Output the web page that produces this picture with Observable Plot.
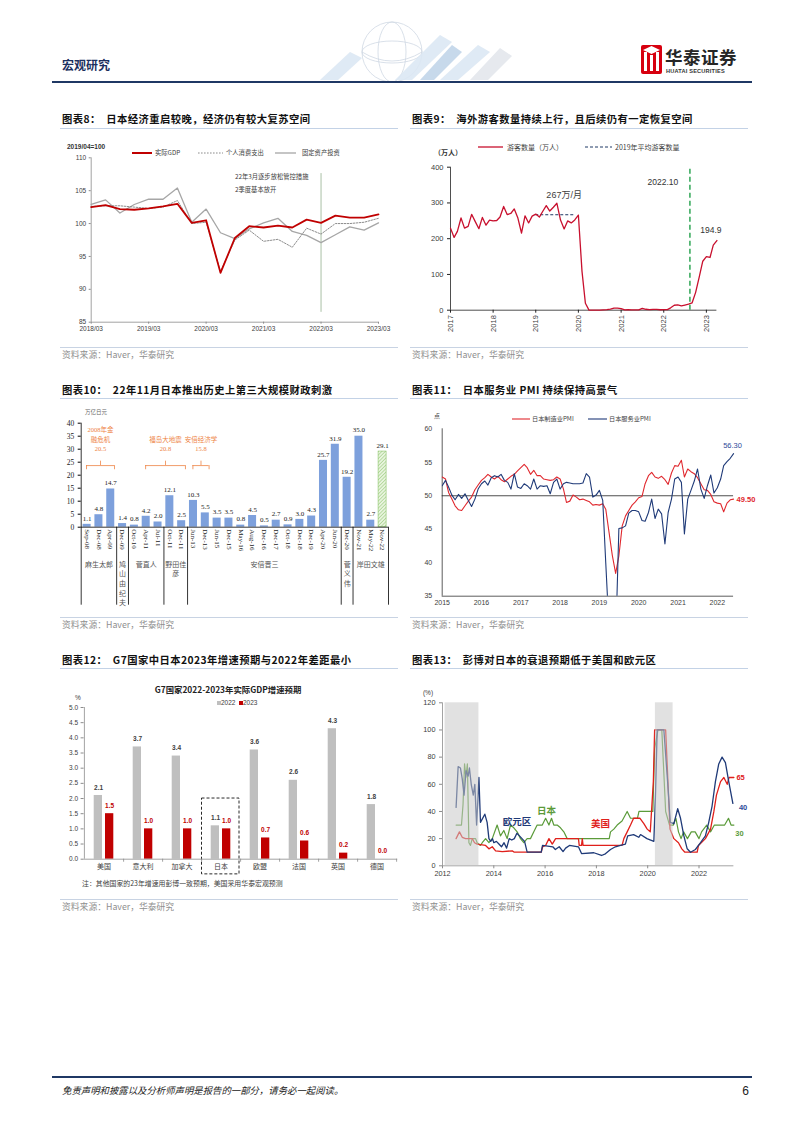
<!DOCTYPE html>
<html><head><meta charset="utf-8">
<script src="https://cdn.jsdelivr.net/npm/d3@7"></script>
<script src="https://cdn.jsdelivr.net/npm/@observablehq/plot@0.6"></script>
<style>
html,body{margin:0;padding:0;background:#fff;}
#page{position:relative;width:802px;height:1133px;overflow:hidden;background:#fff;}
#page svg{position:absolute;}
</style></head>
<body><div id="page"></div>
<script>
const CJK = '"Noto Sans CJK SC", "Liberation Sans", sans-serif';
const SANS = '"Liberation Sans", "Noto Sans CJK SC", sans-serif';
const SERIF = '"Liberation Serif", "Noto Sans CJK SC", serif';

// ================= DATA =================
// Chart 8 (quarterly, 2018Q1..2023Q1, 2019/04=100)
const c8Ticks = ["2018/03","2019/03","2020/03","2021/03","2022/03","2023/03"];
const c8YTicks = [85,90,95,100,105,110];
const c8Gdp  = [102.5,102.8,102.2,102.1,102.3,102.6,103.0,100.1,100.5,92.5,97.8,99.6,99.4,99.7,99.4,100.6,100.1,101.2,100.9,100.9,101.4];
const c8Cons = [102.6,102.7,102.7,102.5,102.3,102.5,103.5,100.0,100.2,92.7,97.5,99.0,97.3,97.6,96.4,99.3,98.4,100.0,100.0,100.2,100.8];
const c8Inv  = [102.9,103.6,101.6,102.9,103.7,103.7,105.4,100.2,102.2,98.6,97.7,99.2,100.1,100.8,98.8,98.2,97.1,98.3,99.5,99.0,100.1];
const c8Legend = ["实际GDP","个人消费支出","固定资产投资"];
const c8MarkQ = 16;            // 2022/03
const c8MarkSpan = [86.5,107.6];
const c8Note = ["22年3月逐步放松管控措施","2季度基本放开"];

// Chart 9 (monthly, 2017-01..2023-04, 万人)
const c9Visitors = [
  229.6,203.6,220.6,257.9,229.5,234.6,268.2,247.8,228.0,259.5,237.8,252.1,
  250.1,250.9,260.8,290.1,267.5,270.5,283.2,257.8,215.9,264.1,244.1,263.2,
  268.9,260.4,276.1,292.7,277.3,288.0,299.1,252.0,227.3,249.7,244.1,252.6,
  266.1,108.5,19.4,0.3,0.2,0.3,0.4,0.9,1.4,2.8,5.7,5.9,
  4.6,0.7,1.2,1.1,1.0,0.9,5.1,2.6,1.8,2.2,2.1,1.2,
  1.8,1.7,6.6,13.9,14.7,12.0,14.5,16.9,20.7,49.9,93.5,137.0,
  149.7,147.5,181.8,194.9];
const c9Years = [2017,2018,2019,2020,2021,2022,2023];
const c9Avg2019 = 267;
const c9Mark = "2022.10";
const c9Legend = ["游客数量（万人）","2019年平均游客数量"];

// Chart 10 (万亿日元)
const c10Dates = ["Sep-08","Dec-08","Apr-09","Dec-09","Oct-10","Apr-11","Jul-11","Oct-11","Dec-11","Jun-13","Dec-13","Jun-15","Dec-15","May-16","Aug-16","Dec-16","Dec-17","Oct-18","Dec-18","Dec-19","Apr-20","Jun-20","Dec-20","Nov-21","May-22","Nov-22"];
const c10Vals  = [1.1,4.8,14.7,1.4,0.8,4.2,2.0,12.1,2.5,10.3,5.5,3.5,3.5,0.8,4.5,0.5,2.7,0.9,3.0,4.3,25.7,31.9,19.2,35.0,2.7,29.1];
const c10Latest = "Nov-22";
const c10PMs = ["麻生太郎","鸠\n山\n由\n纪\n夫","菅直人","野田佳\n彦","安倍晋三","菅\n义\n伟","岸田文雄"];
const c10PMSizes = [3,1,3,2,13,1,3];
const c10Events = ["2008年金\n融危机\n20.5","福岛大地震\n20.8","安倍经济学\n15.8"];
const c10EventFrom = ["Sep-08","Apr-11","Jun-13"];
const c10EventTo = ["Apr-09","Dec-11","Dec-13"];

// Chart 11 (monthly PMI)
const c11Mfg = [
  52.8,52.5,50.5,49.5,48.5,47.9,47.8,48.5,49.2,49.8,50.9,51.6,
  52.3,52.7,53.2,52.8,52.5,52.9,52.4,52.1,52.5,52.9,53.2,53.7,
  54.2,54.7,54.2,53.2,53.8,53.0,53.0,52.5,52.4,52.3,52.4,52.8,
  52.5,51.0,49.0,49.2,50.1,49.8,49.4,49.5,49.3,49.1,48.6,48.7,
  48.6,48.8,48.0,44.5,41.1,38.4,41.0,45.5,47.0,47.8,48.6,49.1,
  49.7,49.9,51.8,53.0,53.5,52.8,52.6,52.9,52.4,51.7,53.4,54.5,
  54.4,55.3,52.8,54.0,53.6,53.3,52.7,51.8,50.9,50.8,50.2,49.1,
  48.9,48.8,47.6,48.9,49.4,49.5];
const c11Svc = [
  51.5,52.3,51.3,50.1,49.4,50.2,49.6,50.3,49.3,48.4,49.5,51.0,
  51.8,52.2,51.6,52.7,53.0,52.8,53.2,52.3,52.0,51.0,53.3,51.3,
  51.1,51.8,51.5,51.0,52.5,51.0,51.5,51.4,51.5,50.3,52.0,52.5,
  51.0,51.8,52.0,51.9,51.8,51.8,51.8,51.9,53.3,52.8,49.8,50.1,
  50.8,49.3,40.0,30.0,25.0,28.0,45.1,45.2,45.5,47.4,47.8,47.8,
  47.6,46.3,46.2,47.5,49.5,46.6,48.0,47.3,42.8,47.5,49.5,52.5,
  52.8,52.0,44.3,49.5,50.8,52.2,54.0,51.0,49.6,51.5,53.1,50.4,
  51.2,52.5,54.5,55.1,55.6,56.3];
const c11Years = [2015,2016,2017,2018,2019,2020,2021,2022];
const c11Legend = ["日本制造业PMI","日本服务业PMI"];

// Chart 12 (G7 GDP growth, %)
const c12Countries = ["美国","意大利","加拿大","日本","欧盟","法国","英国","德国"];
const c12G2022 = [2.1,3.7,3.4,1.1,3.6,2.6,4.3,1.8];
const c12G2023 = [1.5,1.0,1.0,1.0,0.7,0.6,0.2,0.0];
const c12Highlight = "日本";

// Chart 13 (recession probability, %)
const c13US = [[2012.53,20],[2012.66,25],[2012.77,21],[2012.90,20],[2013.16,20],[2013.25,17],[2013.35,16],[2013.68,15],[2013.81,12.5],[2013.94,14],[2014.07,11],[2014.33,10.5],[2014.72,11],[2014.80,10],[2015.85,10],[2015.90,14],[2016.02,15],[2016.15,20],[2016.28,16],[2016.41,20],[2017.30,20],[2017.33,15],[2017.42,15],[2017.45,20],[2017.48,15],[2019.00,15],[2019.07,20],[2019.20,25],[2019.33,30],[2019.45,35],[2019.70,35],[2019.85,31],[2019.98,27],[2020.10,25],[2020.22,62],[2020.27,100],[2020.70,100],[2020.87,27],[2021.02,20],[2021.20,17],[2021.33,12.5],[2021.45,10],[2021.93,10],[2021.98,15],[2022.25,20],[2022.45,27],[2022.58,40],[2022.68,52],[2022.84,62],[2022.97,65],[2023.10,60],[2023.17,65],[2023.36,65]];
const c13Japan = [[2012.53,30],[2012.74,30],[2012.80,45],[2012.86,75],[2012.91,65],[2012.97,75],[2013.03,17],[2013.09,15],[2013.16,20],[2013.29,20],[2013.35,17],[2013.48,15],[2013.55,17],[2013.68,20],[2013.81,17],[2013.94,20],[2014.13,30],[2014.26,22],[2014.39,26],[2014.52,20],[2014.65,30],[2014.78,28],[2014.91,25],[2015.04,20],[2015.17,17],[2015.30,20],[2015.43,20],[2015.56,25],[2015.69,30],[2015.89,30],[2016.02,35],[2016.15,30],[2016.25,35],[2016.34,30],[2016.47,30],[2016.60,28],[2016.73,25],[2016.86,20],[2018.50,20],[2018.55,25],[2018.68,27],[2018.81,30],[2019.00,33],[2019.20,40],[2019.33,35],[2019.60,35],[2019.66,40],[2020.20,40],[2020.27,86],[2020.40,100],[2020.55,100],[2020.70,40],[2020.85,30],[2021.00,30],[2021.10,35],[2021.20,25],[2021.30,20],[2021.40,25],[2021.55,20],[2021.70,25],[2021.85,25],[2022.00,20],[2022.10,25],[2022.30,30],[2022.45,25],[2022.60,30],[2023.00,30],[2023.15,35],[2023.25,30],[2023.36,30]];
const c13Euro = [[2012.53,43],[2012.61,73],[2012.70,72],[2012.77,64],[2012.84,52],[2012.92,70],[2013.00,66],[2013.05,72],[2013.12,60],[2013.20,52],[2013.26,60],[2013.33,30],[2013.42,65],[2013.48,32],[2013.65,38],[2013.74,32],[2013.81,20],[2013.88,18],[2013.95,20],[2014.00,17],[2014.10,18],[2014.20,16],[2014.30,14],[2014.40,17],[2014.50,13],[2014.60,20],[2014.70,19],[2014.80,20],[2014.90,24],[2015.00,22],[2015.10,20],[2015.20,18],[2015.30,10],[2015.85,10],[2015.90,15],[2016.30,14],[2016.40,12],[2016.55,14],[2016.70,10.5],[2016.80,13],[2016.95,15],[2017.30,14],[2017.42,9],[2017.90,9.6],[2018.20,7.6],[2018.35,8.8],[2018.55,12],[2018.74,14],[2018.94,15],[2019.13,16],[2019.22,22],[2019.45,23],[2019.65,21],[2019.72,23],[2019.97,20],[2020.24,18],[2020.30,50],[2020.37,100],[2020.63,100],[2020.78,61],[2020.88,32],[2021.02,31],[2021.17,42],[2021.28,35],[2021.41,22],[2021.54,12.5],[2021.67,10],[2021.86,12],[2022.06,17],[2022.25,22],[2022.38,32],[2022.51,44],[2022.64,62],[2022.77,75],[2022.90,80],[2023.03,76],[2023.16,62],[2023.32,46]];
const c13Recessions = [[2012.1,2013.42],[2020.3,2020.99]];
const c13Names = ["美国","日本","欧元区"];
const c13EndLabels = ["65","30","40"];

// ================= HELPERS =================
const page = document.getElementById("page");
function put(el, left, top){ el.style.left = left+"px"; el.style.top = top+"px"; page.appendChild(el); return el; }
function txt(s, x, y, style = {}, anchor = "start"){
  const d = document.createElement("div");
  d.textContent = s;
  Object.assign(d.style, {position:"absolute", whiteSpace:"nowrap", lineHeight:"1", left:x+"px", top:y+"px", fontFamily:CJK}, style);
  const tx = anchor === "middle" ? "-50%" : anchor === "end" ? "-100%" : "0";
  d.style.transform = `translate(${tx},-50%)`;
  page.appendChild(d); return d;
}
function box(x, y, w, h, bg){
  const d = document.createElement("div");
  Object.assign(d.style, {position:"absolute", left:x+"px", top:y+"px", width:w+"px", height:h+"px", background:bg});
  page.appendChild(d); return d;
}
function swatch(x1, x2, y, color, width, dash){
  const ns = "http://www.w3.org/2000/svg";
  const s = document.createElementNS(ns, "svg");
  s.setAttribute("width", x2-x1); s.setAttribute("height", 6);
  s.style.position = "absolute"; s.style.left = x1+"px"; s.style.top = (y-3)+"px";
  const l = document.createElementNS(ns, "line");
  l.setAttribute("x1",0); l.setAttribute("x2",x2-x1); l.setAttribute("y1",3); l.setAttribute("y2",3);
  l.setAttribute("stroke", color); l.setAttribute("stroke-width", width);
  if (dash) l.setAttribute("stroke-dasharray", dash);
  s.appendChild(l); page.appendChild(s); return s;
}
const baseStyle = (size) => ({background:"transparent", fontFamily:SANS, fontSize:size, color:"#404040"});

// ================= PAGE CHROME =================
(function(){
  const ns = "http://www.w3.org/2000/svg";
  const s = document.createElementNS(ns, "svg");
  s.setAttribute("width", 802); s.setAttribute("height", 90);
  s.style.position = "absolute"; s.style.left = "0px"; s.style.top = "0px";
  s.innerHTML = `
   <g fill="none" stroke="#cfd8e3" stroke-width="0.8">
     <circle cx="392" cy="52" r="30"/>
     <ellipse cx="392" cy="52" rx="14" ry="30"/>
     <ellipse cx="392" cy="52" rx="30" ry="11"/>
     <path d="M362 52 Q392 70 422 52"/>
   </g>
   <g fill="#dce8f4" opacity="0.9">
     <polygon points="320,80 350,52 362,58 338,80"/>
     <polygon points="395,80 440,35 452,42 412,80"/>
     <polygon points="440,80 478,45 490,52 458,80"/>
   </g>
   <g fill="#b9cfe6" opacity="0.8">
     <polygon points="420,80 452,45 462,52 434,80"/>
   </g>
   <g fill="#e6e9ee">
     <polygon points="470,80 500,48 512,56 488,80"/>
   </g>
   <rect x="641" y="45" width="21" height="29" rx="2" fill="#d7000f"/>
   <g fill="#fff">
     <rect x="644" y="52" width="3" height="19"/>
     <rect x="650" y="55" width="3" height="16"/>
     <rect x="656" y="52" width="3" height="19"/>
     <polygon points="643,50 651.5,46 660,50 651.5,54"/>
   </g>`;
  page.appendChild(s);
})();
txt("宏观研究", 62, 65, {fontSize:"12px", fontWeight:"700", color:"#1c2f5e"});
txt("华泰证券", 665, 57, {fontSize:"17.5px", fontWeight:"700", color:"#262626", letterSpacing:"0.5px"});
txt("HUATAI SECURITIES", 666, 71.5, {fontSize:"5.6px", fontWeight:"700", color:"#333", fontFamily:SANS, letterSpacing:"0.2px"});
box(52, 81, 700, 1.6, "#1f3864");

box(52, 1076, 700, 1.6, "#1f3864");
txt("免责声明和披露以及分析师声明是报告的一部分，请务必一起阅读。", 62, 1091, {fontSize:"9.4px", fontStyle:"italic", color:"#222"});
txt("6", 749, 1091, {fontSize:"12px", color:"#222", fontFamily:SANS}, "end");

const titles = [
  ["图表8：  日本经济重启较晚，经济仍有较大复苏空间", 62, 119],
  ["图表9：  海外游客数量持续上行，且后续仍有一定恢复空间", 412, 119],
  ["图表10：  22年11月日本推出历史上第三大规模财政刺激", 62, 390],
  ["图表11：  日本服务业 PMI 持续保持高景气", 412, 390],
  ["图表12：  G7国家中日本2023年增速预期与2022年差距最小", 62, 660],
  ["图表13：  彭博对日本的衰退预期低于美国和欧元区", 412, 660]];
titles.forEach(([t,x,y]) => { const d = txt(t, x, y, {fontSize:"10.3px", fontWeight:"700", color:"#111", letterSpacing:"0.45px"}); d.style.whiteSpace = "pre"; });
[[60,128],[410,128],[60,398],[410,398],[60,668],[410,668]].forEach(([x,y]) => box(x, y, 338, 1, "#c3d2e6"));
[[60,347,355],[410,347,355],[60,617,625],[410,617,625],[60,899,906.5],[410,899,906.5]].forEach(([x,ly,ty]) => {
  box(x, ly, 338, 1, "#c8d3e3");
  txt("资料来源：Haver，华泰研究", x+2, ty, {fontSize:"8.8px", color:"#8f8f8f"});
});

// ================= CHART 8 =================
{
  const rows = c8Gdp.map((v,i) => ({q:i, gdp:v, cons:c8Cons[i], inv:c8Inv[i]}));
  const p = Plot.plot({
    width:335, height:205, marginTop:17.3, marginBottom:23.3, marginLeft:30.7, marginRight:17,
    x:{type:"linear", domain:[0, c8Gdp.length-1]},
    y:{domain:[c8YTicks[0], c8YTicks[c8YTicks.length-1]]},
    style: baseStyle("6.5px"),
    marks:[
      Plot.ruleX([c8MarkQ], {y1:c8MarkSpan[0], y2:c8MarkSpan[1], stroke:"#a9c0a5", strokeWidth:1}),
      Plot.ruleX([0], {stroke:"#8c8c8c", strokeWidth:0.8}),
      Plot.ruleY([c8YTicks[0]], {stroke:"#8c8c8c", strokeWidth:0.8}),
      Plot.axisY({ticks:c8YTicks, tickSize:2, tickPadding:3, label:null, stroke:"#8c8c8c"}),
      Plot.axisX({ticks:c8Ticks.map((_,k)=>k*4), tickFormat:v => c8Ticks[v/4], tickSize:2, tickPadding:2, label:null, stroke:"#8c8c8c"}),
      Plot.line(rows, {x:"q", y:"inv", stroke:"#a6a6a6", strokeWidth:1.3}),
      Plot.line(rows, {x:"q", y:"cons", stroke:"#7f7f7f", strokeWidth:0.9, strokeDasharray:"1.6,1.4"}),
      Plot.line(rows, {x:"q", y:"gdp", stroke:"#c00000", strokeWidth:1.8})
    ]
  });
  put(p, 60, 140);
  txt("2019/04=100", 67, 147, {fontSize:"6.5px", color:"#333", fontFamily:SANS, fontWeight:"700"});
  swatch(132, 152, 152.7, "#c00000", 2);
  txt(c8Legend[0], 155, 152.7, {fontSize:"6.3px", color:"#404040"});
  swatch(198, 223, 152.7, "#7f7f7f", 0.9, "1.6,1.4");
  txt(c8Legend[1], 226, 152.7, {fontSize:"6.3px", color:"#404040"});
  swatch(275, 296, 152.7, "#a6a6a6", 1.3);
  txt(c8Legend[2], 302, 152.7, {fontSize:"6.3px", color:"#404040"});
  txt(c8Note[0], 235, 176.5, {fontSize:"6.3px", color:"#404040"});
  txt(c8Note[1], 235, 189.5, {fontSize:"6.3px", color:"#404040"});
}

// ================= CHART 9 =================
{
  const rows = c9Visitors.map((v,i) => ({d:new Date(2017, i, 1), v}));
  const last = rows[rows.length-1];
  const avg = [{y:c9Avg2019, a:new Date(2019,0,1), b:new Date(2019,11,1), mid:new Date(2019,8,1), t:c9Avg2019+"万/月"}];
  const mark = [{d:new Date(2022,7,13), t:c9Mark}];
  const p = Plot.plot({
    width:350, height:185, marginTop:11.7, marginBottom:30.3, marginLeft:40, marginRight:43.6,
    x:{type:"time", domain:[rows[0].d, last.d]},
    y:{domain:[0,400]},
    style: baseStyle("7.5px"),
    marks:[
      Plot.ruleY([0], {stroke:"#222", strokeWidth:0.8}),
      Plot.ruleX([rows[0].d], {stroke:"#222", strokeWidth:0.8}),
      Plot.axisY({ticks:[0,100,200,300,400], tickSize:3, tickPadding:4, label:null, stroke:"#222"}),
      Plot.axisX({ticks:c9Years.map(y => new Date(y,0,1)), tickFormat:d => String(d.getFullYear()), tickRotate:-90, tickSize:3, tickPadding:2, label:null, stroke:"#222"}),
      Plot.ruleY(avg, {y:"y", x1:"a", x2:"b", stroke:"#1f3864", strokeWidth:1, strokeDasharray:"3,2"}),
      Plot.ruleX(mark, {x:"d", y1:0, y2:400, stroke:"#22a04b", strokeWidth:1.4, strokeDasharray:"5,3"}),
      Plot.line(rows, {x:"d", y:"v", stroke:"#c8102e", strokeWidth:1.3}),
      Plot.text(avg, {x:"mid", y:"y", text:"t", dy:-20, fontSize:9, fill:"#404040"}),
      Plot.text(mark, {x:"d", y:400, text:"t", dx:-27, dy:15, fontSize:8.5, fill:"#333"}),
      Plot.text([last], {x:"d", y:"v", text:d => d.v.toFixed(1), dx:-6, dy:-10, fontSize:8.5, fill:"#333"})
    ]
  });
  put(p, 410, 155);
  txt("（万人）", 434, 152, {fontSize:"7px", fontWeight:"700", color:"#333"});
  swatch(478, 503, 146.7, "#c8102e", 1.3);
  txt(c9Legend[0], 507, 146.7, {fontSize:"7px", color:"#404040"});
  swatch(585, 612, 146.7, "#1f3864", 1, "3,2");
  txt(c9Legend[1], 615, 146.7, {fontSize:"7px", color:"#404040"});
}

// ================= CHART 10 =================
{
  const rows = c10Vals.map((v,i) => ({i, v, lab:c10Dates[i]}));
  let acc = 0; const bounds = [0];
  const pms = c10PMs.map((name,k) => { const s = acc; acc += c10PMSizes[k]; bounds.push(acc); return {mid:(s+acc)/2, name}; });
  const idx = lab => c10Dates.indexOf(lab);
  const ev = c10Events.map((t,k) => {
    const a = idx(c10EventFrom[k]) + 0.45, b = idx(c10EventTo[k]) + 0.82;
    return {t, a, b, m:(a+b)/2};
  });
  const braceY = 23.7, braceLo = 22.1, braceHi = 25.4;
  const orange = "#ee8445";
  const p = Plot.plot({
    width:335, height:215, marginTop:17.7, marginBottom:93.3, marginLeft:20.7, marginRight:7,
    x:{type:"linear", domain:[0, rows.length]},
    y:{domain:[0,40]},
    style: Object.assign(baseStyle("7px"), {fontFamily:SERIF, color:"#222"}),
    marks:[
      Plot.rectY(rows.filter(d => d.lab !== c10Latest), {x1:"i", x2:d => d.i+1, y:"v", insetLeft:1.9, insetRight:1.9, fill:"#7da0dc"}),
      Plot.rectY(rows.filter(d => d.lab === c10Latest), {x1:"i", x2:d => d.i+1, y:"v", insetLeft:1.9, insetRight:1.9, fill:"url(#hatch10)", stroke:"#8cc46b", strokeWidth:0.6}),
      Plot.ruleY([0], {stroke:"#000", strokeWidth:0.8}),
      Plot.ruleX([0], {y1:-30, y2:40, stroke:"#000", strokeWidth:0.8}),
      Plot.ruleX(bounds.slice(1), {y1:0, y2:-30, stroke:"#000", strokeWidth:0.8}),
      Plot.axisY({ticks:d3.range(0,41,5), tickSize:3, tickPadding:4, label:null, stroke:"#000", fontSize:7.5}),
      Plot.axisX({ticks:rows.map(d => d.i+0.5), tickFormat:v => c10Dates[Math.floor(v)], tickRotate:90, tickSize:0, tickPadding:2, label:null, fontSize:7}),
      Plot.text(rows, {x:d => d.i+0.5, y:"v", text:d => d.v.toFixed(1), dy:-6, fontSize:7, fill:"#222"}),
      Plot.text(pms, {x:"mid", y:-12.6, text:"name", lineAnchor:"top", lineHeight:1.38, fontFamily:CJK, fontSize:7, fill:"#555"}),
      Plot.ruleY(ev, {y:braceY, x1:"a", x2:"b", stroke:orange, strokeWidth:0.8}),
      Plot.ruleX(ev, {x:"a", y1:braceLo, y2:braceY, stroke:orange, strokeWidth:0.8}),
      Plot.ruleX(ev, {x:"b", y1:braceLo, y2:braceY, stroke:orange, strokeWidth:0.8}),
      Plot.ruleX(ev, {x:"m", y1:braceY, y2:braceHi, stroke:orange, strokeWidth:0.8}),
      Plot.text(ev, {x:"m", y:29.2, text:"t", lineAnchor:"bottom", lineHeight:1.45, fontSize:6.5, fill:orange, fontFamily:SERIF})
    ]
  });
  const sel = d3.select(p);
  const pat = sel.insert("defs", ":first-child").append("pattern")
    .attr("id","hatch10").attr("patternUnits","userSpaceOnUse").attr("width",2.5).attr("height",2.5).attr("patternTransform","rotate(45)");
  pat.append("rect").attr("width",2.5).attr("height",2.5).attr("fill","#e8f4de");
  pat.append("line").attr("x1",0).attr("y1",0).attr("x2",0).attr("y2",2.5).attr("stroke","#8cc46b").attr("stroke-width",1);
  put(p, 60, 405);
  txt("万亿日元", 85, 413, {fontSize:"5.5px", color:"#666"});
}

// ================= CHART 11 =================
{
  const rows = c11Mfg.map((v,i) => ({d:new Date(2015, i, 1), m:v, s:c11Svc[i]}));
  const last = rows[rows.length-1];
  const fifty = [{y:50, a:rows[0].d, b:last.d}];
  const p = Plot.plot({
    width:350, height:205, marginTop:18.3, marginBottom:19.3, marginLeft:31.7, marginRight:3.9,
    x:{type:"time", domain:[new Date(2015,0,1), new Date(2023,0,1)]},
    y:{domain:[35,60]},
    style: baseStyle("7px"),
    marks:[
      Plot.ruleY([35], {x1:rows[0].d, x2:last.d, stroke:"#333", strokeWidth:0.8}),
      Plot.ruleX([rows[0].d], {stroke:"#333", strokeWidth:0.8}),
      Plot.axisY({ticks:[35,40,45,50,55,60], tickSize:0, tickPadding:10, label:null}),
      Plot.axisX({ticks:c11Years.map(y => new Date(y,0,1)), tickFormat:d => String(d.getFullYear()), tickSize:0, tickPadding:4, label:null}),
      Plot.ruleY(fifty, {y:"y", x1:"a", x2:"b", stroke:"#222", strokeWidth:0.8}),
      Plot.line(rows, {x:"d", y:"m", stroke:"#e0282e", strokeWidth:1.1, clip:true}),
      Plot.line(rows, {x:"d", y:"s", stroke:"#1f3a78", strokeWidth:1.1, clip:true}),
      Plot.text([last], {x:"d", y:"s", text:d => d.s.toFixed(2), dy:-8, dx:-1, fontSize:7.5, fill:"#2e4a9a"}),
      Plot.text([last], {x:"d", y:"m", text:d => d.m.toFixed(2), dx:3, textAnchor:"start", fontSize:7.5, fill:"#e0282e", fontWeight:"bold"})
    ]
  });
  put(p, 410, 410);
  txt("点", 434, 416, {fontSize:"6px", color:"#444"});
  swatch(512, 530, 419.3, "#e0282e", 1.1);
  txt(c11Legend[0], 532, 419.3, {fontSize:"6.2px", color:"#404040"});
  swatch(588, 607, 419.3, "#1f3a78", 1.1);
  txt(c11Legend[1], 609, 419.3, {fontSize:"6.2px", color:"#404040"});
}

// ================= CHART 12 =================
{
  const r22 = c12Countries.map((c,i) => ({c, v:c12G2022[i]}));
  const r23 = c12Countries.map((c,i) => ({c, v:c12G2023[i]}));
  const p = Plot.plot({
    width:340, height:185, marginTop:7, marginBottom:26.3, marginLeft:23.6, marginRight:2.8,
    x:{type:"band", domain:c12Countries, padding:0},
    y:{domain:[0,5]},
    style: baseStyle("6.5px"),
    marks:[
      Plot.barY(r22, {x:"c", y:"v", fill:"#bfbfbf", insetLeft:9.7, insetRight:21}),
      Plot.barY(r23, {x:"c", y:"v", fill:"#c00000", insetLeft:21, insetRight:9.7}),
      Plot.barY([{c:c12Highlight}], {x:"c", y1:-0.5, y2:2.0, fill:"none", stroke:"#111", strokeWidth:0.9, strokeDasharray:"3,2", insetLeft:0.5, insetRight:1}),
      Plot.ruleY([0], {stroke:"#8c8c8c", strokeWidth:0.8}),
      Plot.ruleX([c12Countries[0]], {dx:-19.6, y1:0, y2:5, stroke:"#8c8c8c", strokeWidth:0.8}),
      Plot.ruleX(c12Countries, {x:d => d, dx:19.6, y1:0, y2:-0.1, stroke:"#8c8c8c", strokeWidth:0.8}),
      Plot.axisY({ticks:d3.range(0,5.01,0.5), tickFormat:d3.format(".1f"), tickSize:3, tickPadding:3, label:null, stroke:"#8c8c8c"}),
      Plot.axisX({tickSize:0, tickPadding:5, label:null, fontFamily:CJK, fontSize:7}),
      Plot.text(r22, {x:"c", y:"v", text:d => d.v.toFixed(1), dx:-5.4, dy:-8, fontSize:6.5, fontWeight:"bold", fill:"#404040"}),
      Plot.text(r23, {x:"c", y:"v", text:d => d.v.toFixed(1), dx:5.6, dy:-8, fontSize:6.5, fontWeight:"bold", fill:"#c00000"})
    ]
  });
  put(p, 60, 700);
  txt("G7国家2022-2023年实际GDP增速预期", 228, 689, {fontSize:"8.4px", fontWeight:"700", color:"#222"}, "middle");
  box(216.5, 701, 4, 4, "#bfbfbf");
  txt("2022", 221, 703, {fontSize:"6.5px", color:"#404040", fontFamily:SANS});
  box(238.5, 701, 4, 4, "#c00000");
  txt("2023", 243, 703, {fontSize:"6.5px", color:"#404040", fontFamily:SANS});
  txt("%", 75, 697.5, {fontSize:"6.5px", color:"#404040", fontFamily:SANS});
  txt("注：其他国家的23年增速用彭博一致预期，美国采用华泰宏观预测", 82, 882.7, {fontSize:"6.9px", color:"#404040"});
}

// ================= CHART 13 =================
{
  const toRows = arr => arr.map(([x,y]) => ({x, y}));
  const us = toRows(c13US), jp = toRows(c13Japan), eu = toRows(c13Euro);
  const rec = c13Recessions.map(([a,b]) => ({a, b}));
  const lastX = Math.max(us[us.length-1].x, jp[jp.length-1].x, eu[eu.length-1].x);
  const names = [
    {x:2018.16, y:30.9, t:c13Names[0], c:"#e0201b"},
    {x:2016.05, y:40.7, t:c13Names[1], c:"#5b9b3a"},
    {x:2014.9, y:32.6, t:c13Names[2], c:"#1f3a78"}];
  const ends = [
    {x:2023.62, y:65.2, t:c13EndLabels[0], c:"#e0201b"},
    {x:2023.58, y:23.6, t:c13EndLabels[1], c:"#5b9b3a"},
    {x:2023.72, y:42.7, t:c13EndLabels[2], c:"#2e4a9a"}];
  const p = Plot.plot({
    width:350, height:195, marginTop:12.3, marginBottom:19.7, marginLeft:32, marginRight:10.2,
    x:{type:"linear", domain:[2012, 2024]},
    y:{domain:[0,120]},
    style: baseStyle("7.3px"),
    marks:[
      Plot.ruleY([{y:0, a:2012, b:lastX}], {y:"y", x1:"a", x2:"b", stroke:"#8c8c8c", strokeWidth:0.8}),
      Plot.ruleX([2012], {y1:0, y2:120, stroke:"#8c8c8c", strokeWidth:0.8}),
      Plot.axisY({ticks:d3.range(0,121,20), tickSize:3, tickPadding:4, label:null, stroke:"#8c8c8c"}),
      Plot.axisX({ticks:d3.range(2012,2023,2), tickFormat:d => String(d), tickSize:3, tickPadding:2, label:null, stroke:"#8c8c8c"}),
      Plot.line(jp, {x:"x", y:"y", stroke:"#5b9b3a", strokeWidth:1.2}),
      Plot.line(us, {x:"x", y:"y", stroke:"#e0201b", strokeWidth:1.3}),
      Plot.line(eu, {x:"x", y:"y", stroke:"#1f3a78", strokeWidth:1.3}),
      Plot.rect(rec, {x1:"a", x2:"b", y1:0, y2:120, fill:"#c8c8c8", fillOpacity:0.55}),
      Plot.text(names, {x:"x", y:"y", text:"t", fill:"c", fontSize:9.5, fontWeight:"bold", fontFamily:CJK}),
      Plot.text(ends, {x:"x", y:"y", text:"t", fill:"c", fontSize:7.5, fontWeight:"bold"})
    ]
  });
  put(p, 410, 690);
  txt("(%)", 428, 692.7, {fontSize:"6.5px", color:"#404040", fontFamily:SANS}, "middle");
}
</script>
</body></html>
